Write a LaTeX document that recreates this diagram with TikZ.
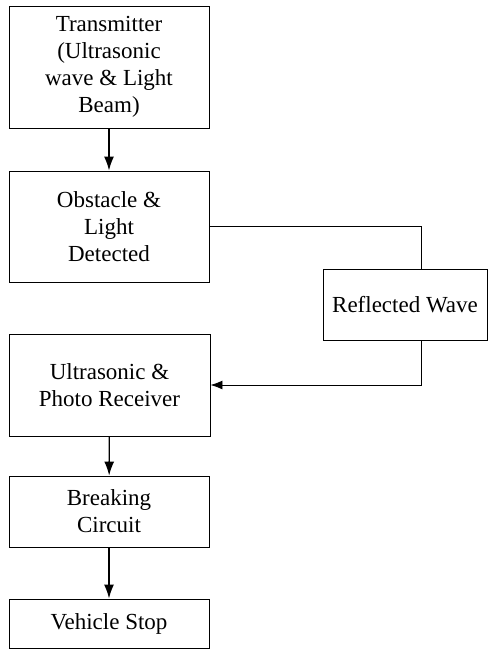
\documentclass[tikz,border=0pt]{standalone}
\usepackage{fontspec}
\setmainfont{Liberation Serif}
\usepackage{tikz}
\usetikzlibrary{arrows.meta}

\begin{document}
\begin{tikzpicture}[x=1pt,y=-1pt,
    blk/.style={draw,line width=0.9pt,align=center,inner sep=0pt,
      font=\fontsize{23}{27}\selectfont},
    flow/.style={-{Latex[length=14pt,width=10pt]},line width=1.4pt},
    link/.style={line width=0.9pt}]
        \useasboundingbox (0,0) rectangle (488,650);
        \node[blk,minimum width=200pt,minimum height=122pt] (tx) at (109,67) {Transmitter\\(Ultrasonic\\wave \& Light\\Beam)};
        \node[blk,minimum width=200pt,minimum height=111pt] (obs) at (109,226.5) {Obstacle \&\\Light\\Detected};
        \node[blk,minimum width=164pt,minimum height=71pt] (refl) at (405,304.5) {Reflected Wave};
        \node[blk,minimum width=201pt,minimum height=102pt] (rx) at (109.5,385) {Ultrasonic \&\\Photo Receiver};
        \node[blk,minimum width=200pt,minimum height=71pt] (brk) at (109,511.5) {Breaking\\Circuit};
        \node[blk,minimum width=200pt,minimum height=49pt] (stop) at (109,623.5) {Vehicle Stop};
        \draw[flow] (tx) -- (obs);
        \draw[link] (obs.east) -- (421,226.5) -- (421,269);
        \draw[link,-{Latex[length=12pt,width=9pt]}] (421,340) -- (421,385) -- (rx.east);
        \draw[flow] (rx) -- (brk);
        \draw[flow] (brk) -- (stop);
    \end{tikzpicture}
\end{document}
